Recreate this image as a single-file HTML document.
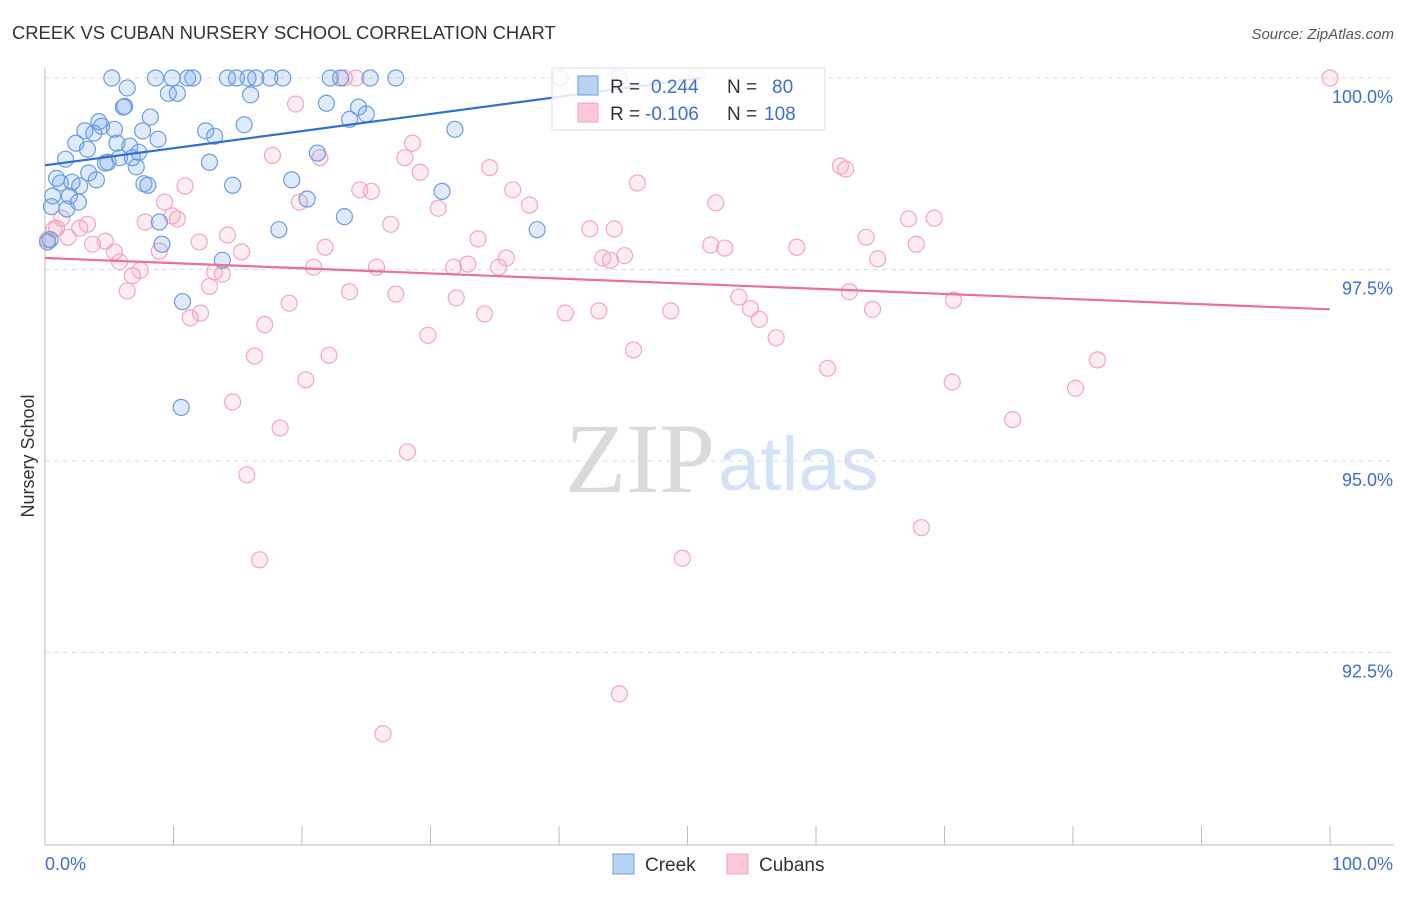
<!DOCTYPE html>
<html><head><meta charset="utf-8"><style>
body{margin:0;background:#fff;font-family:"Liberation Sans",sans-serif}
svg text{font-family:"Liberation Sans",sans-serif}
</style></head><body>
<svg id="c" width="1406" height="892">
<text x="12" y="39" font-size="18.4" fill="#333">CREEK VS CUBAN NURSERY SCHOOL CORRELATION CHART</text>
<text x="1394" y="39" font-size="15" fill="#555" text-anchor="end" font-style="italic">Source: ZipAtlas.com</text>
<text x="715" y="492" font-size="100" fill="#dadada" text-anchor="end" style="font-family:'Liberation Serif',serif">ZIP</text>
<text x="718" y="490" font-size="76" fill="#d3e3f5">atlas</text>
<text x="34" y="456" font-size="18" fill="#333" text-anchor="middle" transform="rotate(-90 34 456)">Nursery School</text>
<g id="grid"></g><g id="pts"></g><g id="lines"></g>
<g>
<rect x="552" y="68" width="273" height="62" fill="#fff" fill-opacity="0.85" stroke="#ddd"/>
<rect x="578" y="76" width="20" height="19" fill="#b8d2f4" stroke="#6b9de0"/>
<rect x="578" y="103" width="20" height="19" fill="#fcc8d6" stroke="#f0a0bb"/>
<text x="610" y="93" font-size="19" fill="#333">R = <tspan fill="#3d6fd0" x="651">0.244</tspan><tspan x="727" fill="#333">N =</tspan><tspan x="772" fill="#3d6fd0">80</tspan></text>
<text x="610" y="120" font-size="19" fill="#333">R = <tspan fill="#3d6fd0" x="645">-0.106</tspan><tspan x="727" fill="#333">N =</tspan><tspan x="764" fill="#3d6fd0">108</tspan></text>
</g>
<rect x="613" y="854" width="21" height="20" fill="#b8d2f4" stroke="#6b9de0"/>
<text x="645" y="871" font-size="19" fill="#333">Creek</text>
<rect x="727" y="854" width="21" height="20" fill="#fcc8d6" stroke="#f0a0bb"/>
<text x="759" y="871" font-size="19" fill="#333">Cubans</text>
</svg>
<script>
const creekX=[5.2,8.6,9.9,11.1,11.5,14.2,14.9,15.8,16.4,17.5,18.5,22.2,23.0,25.3,27.3,40.1,44.7,6.4,9.6,10.3,16.0,6.1,6.2,21.9,24.4,25.0,23.7,8.2,4.2,4.4,3.1,3.8,5.4,7.6,12.5,13.2,15.5,31.9,8.8,2.4,3.3,5.6,6.6,7.3,1.6,4.7,4.9,5.8,6.8,12.8,21.2,7.1,3.4,0.9,1.2,2.1,2.7,4.0,7.7,8.0,14.6,19.2,30.9,0.6,1.9,2.6,0.5,1.7,20.4,23.3,8.9,18.2,38.3,9.1,0.4,0.2,13.8,10.7,10.6];
const creekY=[100,100,100,100,100,100,100,100,100,100,100,100,100,100,100,100,100,99.87,99.80,99.80,99.78,99.62,99.63,99.67,99.62,99.53,99.46,99.49,99.43,99.37,99.31,99.28,99.33,99.31,99.31,99.24,99.39,99.33,99.20,99.15,99.07,99.15,99.11,99.03,98.94,98.89,98.90,98.96,98.96,98.90,99.02,98.84,98.76,98.69,98.63,98.64,98.59,98.67,98.62,98.60,98.60,98.67,98.52,98.46,98.46,98.38,98.32,98.29,98.42,98.19,98.12,98.02,98.02,97.83,97.89,97.86,97.62,97.08,95.70];
const cubanX=[100,23.3,24.2,50.7,19.5,28.6,17.7,21.4,28.0,34.6,29.2,61.9,62.3,46.1,10.9,24.5,25.4,36.4,52.2,37.7,19.8,30.6,9.3,9.9,10.3,67.2,69.2,1.3,3.3,7.8,0.9,26.9,42.4,44.3,14.2,33.7,63.9,58.5,51.8,52.9,67.8,0.7,1.8,4.7,3.7,12.0,15.3,21.8,5.4,5.8,8.9,43.4,44.0,45.1,64.8,35.9,32.9,31.8,25.8,20.9,35.3,7.4,13.2,13.8,6.8,6.4,12.8,23.7,27.3,32.0,54.0,19.0,40.5,43.1,48.7,54.9,64.4,62.6,70.7,34.2,11.3,12.1,17.1,55.6,29.8,56.9,45.8,16.3,22.1,60.9,81.9,70.6,20.3,80.2,14.6,75.3,18.3,28.2,15.7,68.2,16.7,49.6,44.7,26.3,0.2,2.7];
const cubanY=[100,100,100,100,99.66,99.15,98.99,98.96,98.96,98.83,98.77,98.85,98.81,98.63,98.59,98.54,98.52,98.54,98.37,98.34,98.38,98.30,98.38,98.20,98.16,98.16,98.17,98.17,98.09,98.12,98.04,98.09,98.03,98.03,97.95,97.90,97.92,97.79,97.82,97.78,97.83,98.03,97.92,97.87,97.83,97.86,97.73,97.79,97.73,97.60,97.74,97.65,97.62,97.68,97.64,97.65,97.57,97.53,97.53,97.53,97.53,97.49,97.47,97.44,97.42,97.22,97.28,97.21,97.18,97.13,97.14,97.06,96.93,96.96,96.96,96.99,96.98,97.21,97.10,96.92,96.87,96.93,96.78,96.85,96.64,96.61,96.45,96.37,96.38,96.21,96.32,96.03,96.06,95.95,95.77,95.54,95.43,95.12,94.82,94.13,93.71,93.73,91.96,91.44,97.89,98.04];
const yTicks=[100,97.5,95,92.5];
const yTickLabels=["100.0%","97.5%","95.0%","92.5%"];
const trendCreek=[[0,98.86],[51,100.0]];
const trendCuban=[[0,97.65],[100,96.98]];
const X=v=>45+v*12.85, Y=v=>78+(100-v)*76.6;
const NS="http://www.w3.org/2000/svg";
function mk(t,a,p){const e=document.createElementNS(NS,t);for(const k in a)e.setAttribute(k,a[k]);p.appendChild(e);return e;}
const grid=document.getElementById('grid');
yTicks.forEach((t,i)=>{
 const l=mk('line',{x1:45,x2:1394,y1:Y(t),y2:Y(t),stroke:'#ddd','stroke-dasharray':'5,4'},grid);
 
 
 const tx=mk('text',{x:1393,y:Y(t)+25,'font-size':18,fill:'#3d6fd0','text-anchor':'end'},grid);tx.textContent=yTickLabels[i];
 
 
});
const ax=mk('line',{x1:45,x2:45,y1:68,y2:845,stroke:'#bbb'},grid);


const bx=mk('line',{x1:45,x2:1394,y1:845,y2:845,stroke:'#bbb'},grid);


for(let i=0;i<=10;i++){const t=mk('line',{x1:X(i*10),x2:X(i*10),y1:826,y2:845,stroke:'#bbb'},grid);
 
 }
[["0.0%",45,'start'],["100.0%",1393,'end']].forEach(a=>{const t=mk('text',{x:a[1],y:870,'font-size':18,fill:'#3d6fd0','text-anchor':a[2]},grid);t.textContent=a[0];
 
 });
const pts=document.getElementById('pts');
cubanX.forEach((x,i)=>{const c=mk('circle',{cx:X(x),cy:Y(cubanY[i]),r:8,fill:'rgba(245,160,190,0.2)',stroke:'#f2a6c0','stroke-width':1.2},pts);
 
 });
creekX.forEach((x,i)=>{const c=mk('circle',{cx:X(x),cy:Y(creekY[i]),r:8,fill:'rgba(110,160,235,0.22)',stroke:'#6b9de0','stroke-width':1.2},pts);
 
 });
const lines=document.getElementById('lines');
const l1=mk('line',{x1:X(trendCreek[0][0]),y1:Y(trendCreek[0][1]),x2:X(trendCreek[1][0]),y2:Y(trendCreek[1][1]),stroke:'#2f6fd6','stroke-width':2.2},lines);


const l2=mk('line',{x1:X(trendCuban[0][0]),y1:Y(trendCuban[0][1]),x2:X(trendCuban[1][0]),y2:Y(trendCuban[1][1]),stroke:'#e8709a','stroke-width':2.2},lines);


</script>
</body></html>
